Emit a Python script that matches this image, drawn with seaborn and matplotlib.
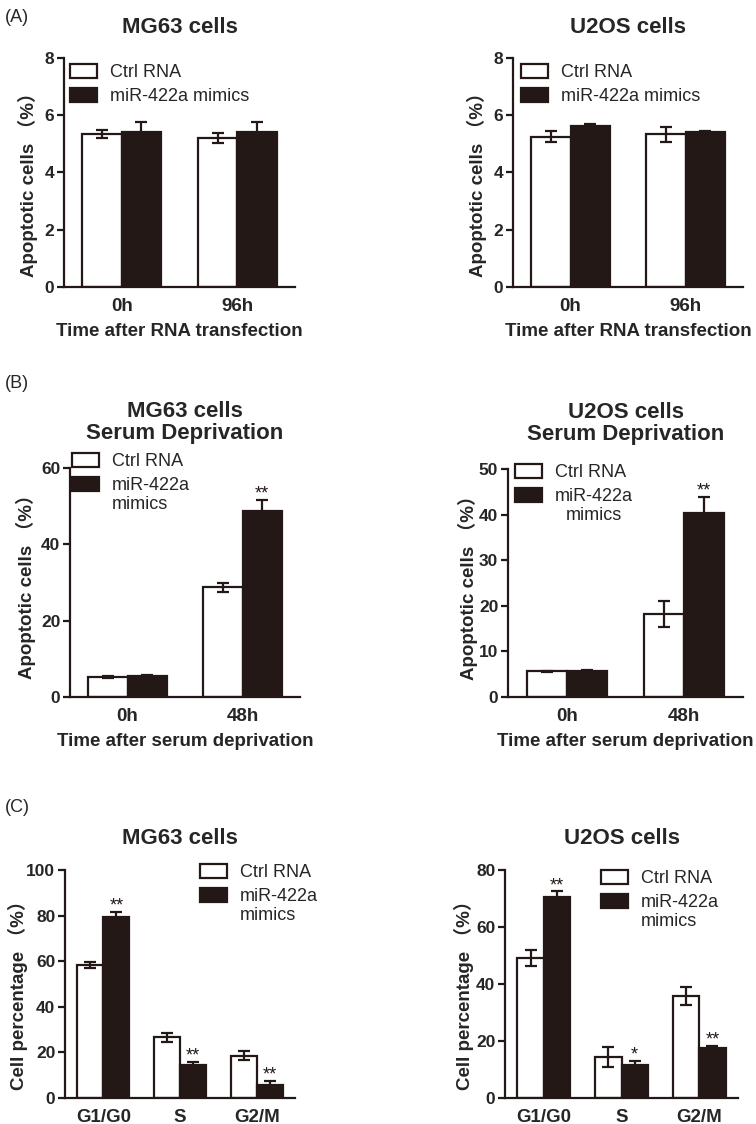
import numpy as np
import pandas as pd
import matplotlib
matplotlib.use("Agg")
import matplotlib.pyplot as plt
import matplotlib.transforms as mtransforms
import seaborn as sns

# ---- data (mean, error) ----
groups = ["Ctrl RNA", "miR-422a mimics"]

# (A) apoptosis after RNA transfection
a_times = ["0h", "96h"]
a_mg63_ctrl = [5.35, 5.20]
a_mg63_ctrl_err = [0.13, 0.18]
a_mg63_mir = [5.40, 5.40]
a_mg63_mir_err = [0.36, 0.36]
a_u2os_ctrl = [5.25, 5.33]
a_u2os_ctrl_err = [0.20, 0.25]
a_u2os_mir = [5.63, 5.40]
a_u2os_mir_err = [0.07, 0.06]

# (B) apoptosis after serum deprivation
b_times = ["0h", "48h"]
b_mg63_ctrl = [5.2, 28.7]
b_mg63_ctrl_err = [0.3, 1.3]
b_mg63_mir = [5.6, 48.7]
b_mg63_mir_err = [0.2, 3.0]
b_mg63_stars = ["", "**"]
b_u2os_ctrl = [5.6, 18.2]
b_u2os_ctrl_err = [0.15, 2.8]
b_u2os_mir = [5.7, 40.4]
b_u2os_mir_err = [0.15, 3.4]
b_u2os_stars = ["", "**"]

# (C) cell cycle distribution
c_phases = ["G1/G0", "S", "G2/M"]
c_mg63_ctrl = [58.4, 26.6, 18.6]
c_mg63_ctrl_err = [1.2, 2.0, 2.1]
c_mg63_mir = [79.2, 14.6, 5.7]
c_mg63_mir_err = [2.3, 1.2, 1.6]
c_mg63_stars = ["**", "**", "**"]
c_u2os_ctrl = [49.2, 14.3, 35.8]
c_u2os_ctrl_err = [2.9, 3.5, 3.0]
c_u2os_mir = [70.6, 11.5, 17.7]
c_u2os_mir_err = [1.9, 1.5, 0.7]
c_u2os_stars = ["**", "*", "**"]

# ---- style ----
sns.set_style("ticks")
plt.rcParams["font.family"] = ["Liberation Sans", "Noto Sans CJK SC", "DejaVu Sans"]
dark = "#231815"
W, H = 756, 1124

fig = plt.figure(figsize=(W / 100, H / 100), dpi=100)


def add_ax(l, t, r, b):
    return fig.add_axes([l / W, 1 - b / H, (r - l) / W, (b - t) / H])


def panel(ax, cats, ctrl, ctrl_err, mir, mir_err, ymax, ystep, title, ylabel,
          xlabel, leg_xy, leg_labels, ylab_x, ylab_y=0.5, stars=None,
          title_pad=18, mcenter=False):
    n = len(cats)
    df = pd.DataFrame({
        "cat": cats * 2,
        "group": [groups[0]] * n + [groups[1]] * n,
        "value": ctrl + mir,
    })
    sns.barplot(data=df, x="cat", y="value", hue="group", order=cats,
                hue_order=groups, palette=["white", dark], saturation=1,
                width=0.68, edgecolor=dark, linewidth=1.6, errorbar=None,
                legend=True, ax=ax)
    handles = ax.get_legend().legend_handles
    ax.get_legend().remove()

    for cont, err in zip(ax.containers, [ctrl_err, mir_err]):
        xs = [p.get_x() + p.get_width() / 2 for p in cont.patches]
        ys = [p.get_height() for p in cont.patches]
        ax.errorbar(xs, ys, yerr=err, fmt="none", ecolor=dark, elinewidth=1.6,
                    capsize=4, capthick=1.6, zorder=3)
    if stars is not None:
        cont = ax.containers[1]
        for p, e, s in zip(cont.patches, mir_err, stars):
            if s:
                ax.annotate(s, (p.get_x() + p.get_width() / 2, p.get_height() + e),
                            xytext=(0, 1), textcoords="offset points",
                            ha="center", va="baseline", fontsize=13, color=dark)

    ax.set_xlim(-0.5, n - 0.5)
    ax.set_ylim(0, ymax)
    ax.set_yticks(np.arange(0, ymax + 0.01, ystep))
    sns.despine(ax=ax)
    for sp in ax.spines.values():
        sp.set_linewidth(1.6)
        sp.set_color(dark)
    ax.tick_params(axis="y", length=5, width=1.6, color=dark, labelsize=12.5, pad=2)
    ax.tick_params(axis="x", length=0, labelsize=13.5, pad=8)
    for t in ax.get_xticklabels() + ax.get_yticklabels():
        t.set_fontweight("bold")
    ax.set_xlabel(xlabel, fontsize=13.5, fontweight="bold", labelpad=6)
    ax.set_ylabel(ylabel, fontsize=13.5, fontweight="bold")
    # x in figure pixels (right edge of rotated label), y in axes fraction
    trans = mtransforms.blended_transform_factory(fig.transFigure, ax.transAxes)
    ax.yaxis.set_label_coords(ylab_x / W, ylab_y, transform=trans)
    ax.set_title(title, fontsize=16, fontweight="bold", pad=title_pad,
                 linespacing=1.05)

    leg = ax.legend(handles, leg_labels, loc="upper left",
                    bbox_to_anchor=(leg_xy[0] / W, 1 - leg_xy[1] / H),
                    bbox_transform=fig.transFigure, frameon=False, fontsize=13,
                    handlelength=1.5, handleheight=0.85, handletextpad=0.7,
                    labelspacing=0.35, borderpad=0, borderaxespad=0)
    # put the handle next to the first line of a two-line label
    for col in leg._legend_handle_box.get_children():
        for item in col.get_children():
            txt = item.get_children()[1]
            if "\n" in txt._text.get_text():
                item.align = "top"
    if mcenter:
        for t in leg.get_texts():
            t.set_multialignment("center")


ylab_apo = "Apoptotic cells （%）"
ylab_cell = "Cell percentage （%）"

ax = add_ax(64, 58, 295, 287)
panel(ax, a_times, a_mg63_ctrl, a_mg63_ctrl_err, a_mg63_mir, a_mg63_mir_err,
      8, 2, "MG63 cells", ylab_apo, "Time after RNA transfection", (70, 64),
      ["Ctrl RNA", "miR-422a mimics"], ylab_x=38, ylab_y=0.467)

ax = add_ax(513, 58, 743, 287)
panel(ax, a_times, a_u2os_ctrl, a_u2os_ctrl_err, a_u2os_mir, a_u2os_mir_err,
      8, 2, "U2OS cells", ylab_apo, "Time after RNA transfection", (521, 64),
      ["Ctrl RNA", "miR-422a mimics"], ylab_x=487, ylab_y=0.467)

ax = add_ax(70, 468, 300, 697)
panel(ax, b_times, b_mg63_ctrl, b_mg63_ctrl_err, b_mg63_mir, b_mg63_mir_err,
      60, 20, "MG63 cells\nSerum Deprivation", ylab_apo,
      "Time after serum deprivation", (72, 453),
      ["Ctrl RNA", "miR-422a\nmimics"], ylab_x=36, stars=b_mg63_stars,
      title_pad=21)

ax = add_ax(508, 469, 743, 697)
panel(ax, b_times, b_u2os_ctrl, b_u2os_ctrl_err, b_u2os_mir, b_u2os_mir_err,
      50, 10, "U2OS cells\nSerum Deprivation", ylab_apo,
      "Time after serum deprivation", (515, 464),
      ["Ctrl RNA", "miR-422a\nmimics"], ylab_x=478, stars=b_u2os_stars,
      title_pad=21, mcenter=True)

ax = add_ax(65, 870, 295, 1098)
panel(ax, c_phases, c_mg63_ctrl, c_mg63_ctrl_err, c_mg63_mir, c_mg63_mir_err,
      100, 20, "MG63 cells", ylab_cell, "", (200, 864),
      ["Ctrl RNA", "miR-422a\nmimics"], ylab_x=28, ylab_y=0.47,
      stars=c_mg63_stars, title_pad=19)

ax = add_ax(505, 870, 738, 1098)
panel(ax, c_phases, c_u2os_ctrl, c_u2os_ctrl_err, c_u2os_mir, c_u2os_mir_err,
      80, 20, "U2OS cells", ylab_cell, "", (601, 870),
      ["Ctrl RNA", "miR-422a\nmimics"], ylab_x=474, ylab_y=0.47,
      stars=c_u2os_stars, title_pad=19)

for lab, y in [("(A)", 18), ("(B)", 384), ("(C)", 807)]:
    fig.text(5 / W, 1 - y / H, lab, fontsize=13, va="center", ha="left")

fig.savefig("out.png", dpi=100)
